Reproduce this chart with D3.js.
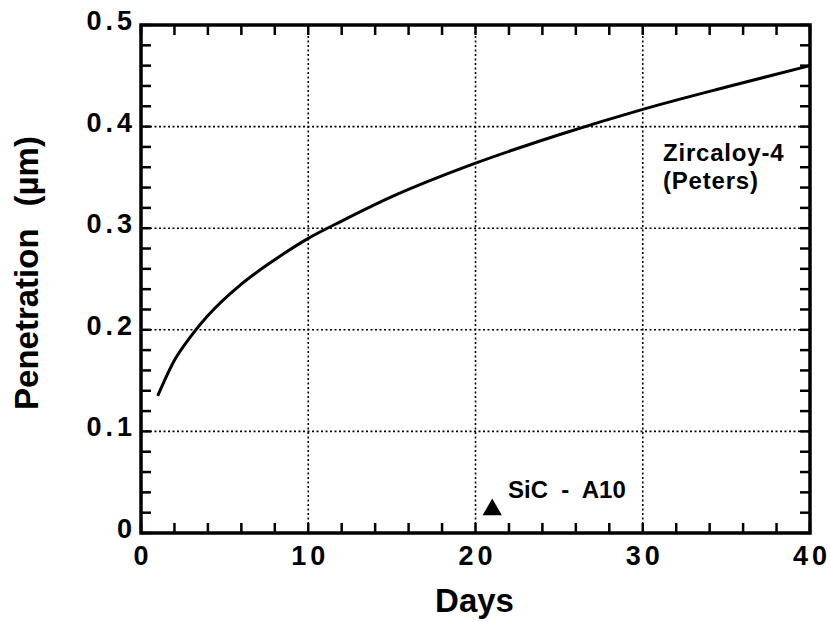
<!DOCTYPE html>
<html>
<head>
<meta charset="utf-8">
<script src="https://cdn.jsdelivr.net/npm/d3@7"></script>
<style>
  body { margin: 0; background: #fff; }
  text { font-family: "Liberation Sans", Arial, sans-serif; font-weight: bold; fill: #000; }
</style>
</head>
<body>
<div id="chart"></div>
<script>
// Zircaloy-4 (Peters) curve
const days = [1, 2, 3, 4, 6, 8, 10, 12, 15, 20, 25, 30, 35, 40];
const penetration = [0.135, 0.170, 0.194, 0.214, 0.245, 0.269, 0.290, 0.307, 0.331, 0.364, 0.392, 0.417, 0.439, 0.460];

// SiC - A10 single point
const sicDays = [21];
const sicPen = [0.023];

const xTicks = [0, 10, 20, 30, 40];
const yTicks = [0, 0.1, 0.2, 0.3, 0.4, 0.5];

const width = 831, height = 622;
const margin = {left: 141, right: 21, top: 25, bottom: 89};

const svg = d3.select("#chart").append("svg")
  .attr("width", width).attr("height", height);

const x = d3.scaleLinear().domain([0, 40]).range([margin.left, width - margin.right]);
const y = d3.scaleLinear().domain([0, 0.5]).range([height - margin.bottom, margin.top]);

// grid lines (dotted)
svg.append("g").selectAll("line").data(xTicks.slice(1, -1)).enter().append("line")
  .attr("x1", d => x(d)).attr("x2", d => x(d))
  .attr("y1", y(0)).attr("y2", y(0.5))
  .attr("stroke", "#000").attr("stroke-width", 1.6).attr("stroke-dasharray", "2,2.5");
svg.append("g").selectAll("line").data(yTicks.slice(1, -1)).enter().append("line")
  .attr("x1", x(0)).attr("x2", x(40))
  .attr("y1", d => y(d)).attr("y2", d => y(d))
  .attr("stroke", "#000").attr("stroke-width", 1.6).attr("stroke-dasharray", "2,2.5");

// inward ticks on all four sides
const xMinor = d3.range(0, 40.01, 2);
const yMinor = d3.range(0, 0.5001, 0.02);
const tick = svg.append("g").attr("stroke", "#000").attr("stroke-width", 2.5);
tick.selectAll(".xb").data(xMinor).enter().append("line")
  .attr("x1", d => x(d)).attr("x2", d => x(d)).attr("y1", y(0)).attr("y2", y(0) - 10);
tick.selectAll(".xt").data(xMinor).enter().append("line")
  .attr("x1", d => x(d)).attr("x2", d => x(d)).attr("y1", y(0.5)).attr("y2", y(0.5) + 10);
tick.selectAll(".yl").data(yMinor).enter().append("line")
  .attr("y1", d => y(d)).attr("y2", d => y(d)).attr("x1", x(0)).attr("x2", x(0) + 10);
tick.selectAll(".yr").data(yMinor).enter().append("line")
  .attr("y1", d => y(d)).attr("y2", d => y(d)).attr("x1", x(40)).attr("x2", x(40) - 10);

// frame
svg.append("rect")
  .attr("x", x(0)).attr("y", y(0.5))
  .attr("width", x(40) - x(0)).attr("height", y(0) - y(0.5))
  .attr("fill", "none").attr("stroke", "#000").attr("stroke-width", 3.5);

// tick labels
svg.append("g").selectAll("text").data(xTicks).enter().append("text")
  .attr("x", d => x(d) + 2).attr("y", y(0) + 32)
  .attr("text-anchor", "middle").attr("font-size", 27).attr("letter-spacing", 4)
  .text(d => d);
svg.append("g").selectAll("text").data(yTicks).enter().append("text")
  .attr("x", x(0) - 5).attr("y", d => y(d) + 5)
  .attr("text-anchor", "end").attr("font-size", 27).attr("letter-spacing", 4)
  .text(d => d === 0 ? "0" : d3.format(".1f")(d));

// curve
const pts = days.map((d, i) => [d, penetration[i]]);
svg.append("path").datum(pts)
  .attr("fill", "none").attr("stroke", "#000").attr("stroke-width", 3)
  .attr("d", d3.line().x(d => x(d[0])).y(d => y(d[1])).curve(d3.curveMonotoneX));

// SiC point
svg.selectAll(".tri").data(sicDays).enter().append("path")
  .attr("transform", (d, i) => `translate(${x(d)},${y(sicPen[i])})`)
  .attr("d", d3.symbol().type(d3.symbolTriangle).size(160))
  .attr("fill", "#000");

// annotations
svg.append("text").attr("x", 508).attr("y", 498)
  .attr("font-size", 24).attr("xml:space", "preserve").text("SiC  -  A10");
svg.append("text").attr("x", 663).attr("y", 161).attr("font-size", 24).attr("letter-spacing", 0.8).text("Zircaloy-4");
svg.append("text").attr("x", 663).attr("y", 189).attr("font-size", 24).attr("letter-spacing", 0.8).text("(Peters)");

// axis titles
svg.append("text").attr("x", x(20) - 1).attr("y", 612)
  .attr("text-anchor", "middle").attr("font-size", 33).text("Days");
const yt = svg.append("text")
  .attr("transform", `translate(38,${(y(0) + y(0.5)) / 2 - 6}) rotate(-90)`)
  .attr("text-anchor", "middle").attr("font-size", 33);
yt.append("tspan").text("Penetration");
yt.append("tspan").attr("dx", 22).text("(\u00b5m)");
</script>
</body>
</html>
